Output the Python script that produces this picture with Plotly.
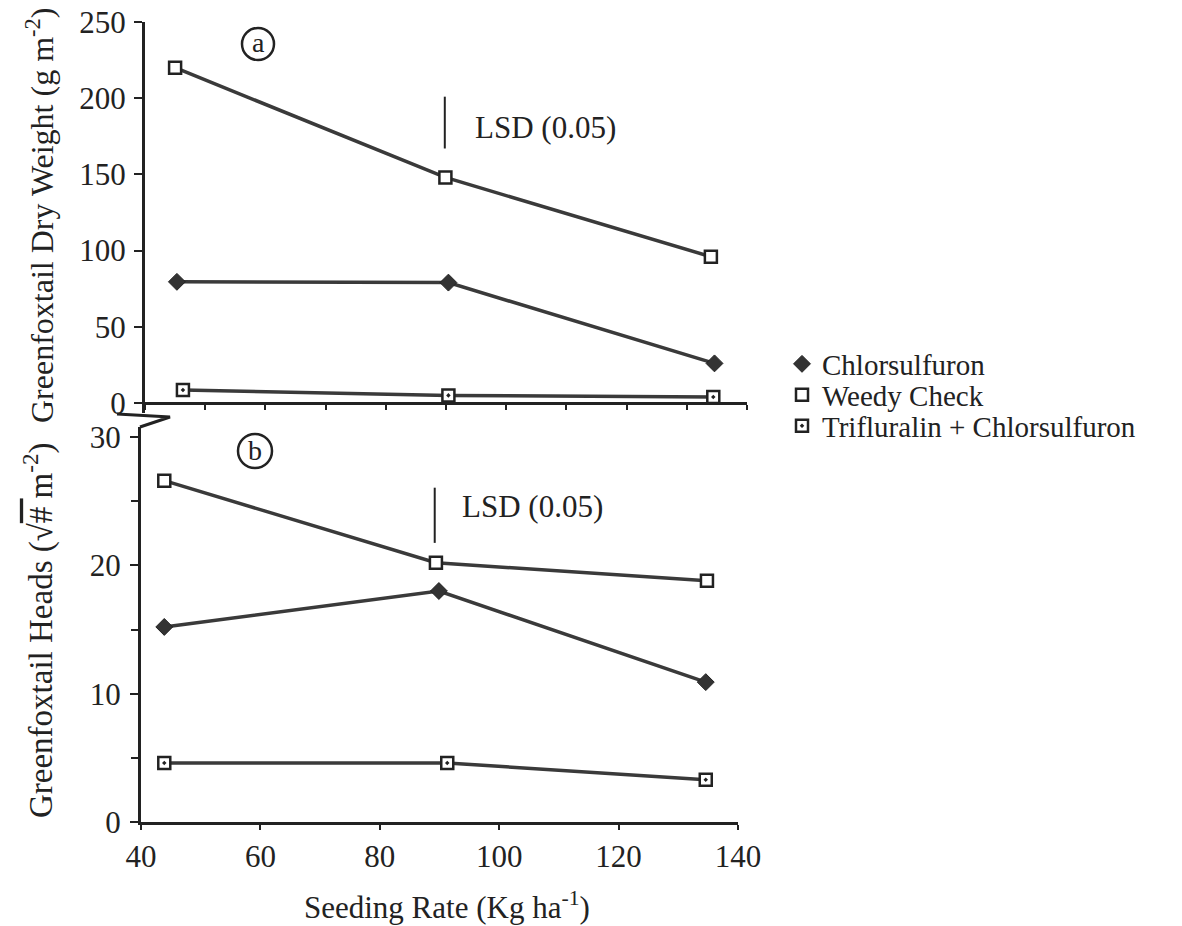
import plotly.graph_objects as go

W, H = 1182, 926

# ---------------- data ----------------
series_names = ["Chlorsulfuron", "Weedy Check", "Trifluralin + Chlorsulfuron"]

# panel (a): Greenfoxtail dry weight (g m-2)
a_chlor_x = [45.3, 90.4, 134.6]
a_chlor_y = [79.5, 79.0, 26.0]
a_weedy_x = [45.0, 89.9, 134.0]
a_weedy_y = [220.0, 148.0, 96.0]
a_trif_x = [46.3, 90.4, 134.4]
a_trif_y = [8.5, 5.0, 4.0]
a_lsd_x = 89.8
a_lsd_center = 184.0
a_lsd_value = 34.0

# panel (b): Greenfoxtail heads (sqrt # m-2)
b_chlor_x = [43.9, 89.9, 134.6]
b_chlor_y = [15.2, 18.0, 10.9]
b_weedy_x = [43.9, 89.4, 134.8]
b_weedy_y = [26.6, 20.2, 18.8]
b_trif_x = [43.9, 91.3, 134.6]
b_trif_y = [4.6, 4.6, 3.3]
b_lsd_x = 89.2
b_lsd_center = 23.9
b_lsd_value = 4.3

x_ticks = [40, 60, 80, 100, 120, 140]
a_y_ticks = [0, 50, 100, 150, 200, 250]
b_y_ticks = [0, 10, 20, 30]

# ---------------- styling helpers ----------------
FONT = "Liberation Serif"
INK = "#222222"
LINE = "#3a3a3a"

def px(x, y):
    return x / W, 1 - y / H

styles = {
    "Chlorsulfuron": dict(symbol="diamond", size=13, color="#333333",
                          line=dict(color=INK, width=1)),
    "Weedy Check": dict(symbol="square", size=12, color="white",
                        line=dict(color=INK, width=2.5)),
    "Trifluralin + Chlorsulfuron": dict(symbol="square-dot", size=12, color="white",
                                        line=dict(color=INK, width=2.5)),
}

fig = go.Figure()

panel_a = [(a_chlor_x, a_chlor_y), (a_weedy_x, a_weedy_y), (a_trif_x, a_trif_y)]
panel_b = [(b_chlor_x, b_chlor_y), (b_weedy_x, b_weedy_y), (b_trif_x, b_trif_y)]

for name, (xs, ys) in zip(series_names, panel_a):
    fig.add_trace(go.Scatter(x=xs, y=ys, mode="lines+markers", name=name,
                             xaxis="x2", yaxis="y2", showlegend=False,
                             line=dict(color=LINE, width=3.5),
                             marker=styles[name], cliponaxis=False))
for name, (xs, ys) in zip(series_names, panel_b):
    fig.add_trace(go.Scatter(x=xs, y=ys, mode="lines+markers", name=name,
                             xaxis="x", yaxis="y", showlegend=False,
                             line=dict(color=LINE, width=3.5),
                             marker=styles[name], cliponaxis=False))

# LSD bars
fig.add_trace(go.Scatter(x=[a_lsd_x, a_lsd_x],
                         y=[a_lsd_center - a_lsd_value / 2, a_lsd_center + a_lsd_value / 2],
                         mode="lines", xaxis="x2", yaxis="y2", showlegend=False,
                         line=dict(color=INK, width=2)))
fig.add_trace(go.Scatter(x=[b_lsd_x, b_lsd_x],
                         y=[b_lsd_center - b_lsd_value / 2, b_lsd_center + b_lsd_value / 2],
                         mode="lines", xaxis="x", yaxis="y", showlegend=False,
                         line=dict(color=INK, width=2)))

# legend entries (markers only), one legend per row for exact spacing
legend_rows = [364, 395, 426]
legend_keys = ["legend", "legend2", "legend3"]
for name, key in zip(series_names, legend_keys):
    st = dict(styles[name])
    fig.add_trace(go.Scatter(x=[None], y=[None], mode="markers", name=name,
                             marker=st, showlegend=True, legend=key))

leg_common = dict(xanchor="left", yanchor="middle", bgcolor="rgba(0,0,0,0)",
                  borderwidth=0, itemwidth=30,
                  font=dict(family=FONT, size=29, color=INK))
lx = 782 / W
layout_legends = {}
for key, row in zip(legend_keys, legend_rows):
    layout_legends[key] = dict(x=lx, y=1 - row / H, **leg_common)

tickfont = dict(family=FONT, size=31, color=INK)
axis_common = dict(showline=True, linecolor=INK, linewidth=3, ticks="outside",
                   tickcolor=INK, tickwidth=2, showgrid=False, zeroline=False,
                   tickfont=tickfont)

# pixel geometry
b_y0, b_y30 = 822, 437
b_top = 427
b_scale = (b_y0 - b_y30) / 30.0
a_y0, a_y250 = 403, 22
a_bottom = 413
a_scale = (a_y0 - a_y250) / 250.0

fig.update_layout(
    width=W, height=H,
    margin=dict(l=0, r=0, t=0, b=0, autoexpand=False),
    paper_bgcolor="white", plot_bgcolor="rgba(0,0,0,0)",
    font=dict(family=FONT, color=INK),
    xaxis=dict(domain=[141 / W, 738 / W], range=[40, 140], anchor="y",
               tickvals=x_ticks, ticklen=5, **axis_common),
    yaxis=dict(domain=[1 - b_y0 / H, 1 - b_top / H],
               range=[0, (b_y0 - b_top) / b_scale], anchor="x",
               tickvals=b_y_ticks, ticklen=8, ticklabelstandoff=3,
               minor=dict(dtick=5, ticklen=7, ticks="outside", tickcolor=INK, tickwidth=2),
               **axis_common),
    xaxis2=dict(domain=[145 / W, 747 / W], range=[40, 140], anchor="free",
                position=1 - a_y0 / H, dtick=10, ticklen=5, showticklabels=False,
                **axis_common),
    yaxis2=dict(domain=[1 - a_bottom / H, 1 - a_y250 / H],
                range=[-(a_bottom - a_y0) / a_scale, 250], anchor="x2",
                tickvals=a_y_ticks, ticklen=8, ticklabelstandoff=2, **axis_common),
    **layout_legends,
)

def ann(x, y, text, size=30, angle=0, xanchor="center"):
    fx, fy = px(x, y)
    fig.add_annotation(x=fx, y=fy, xref="paper", yref="paper", text=text,
                       showarrow=False, textangle=angle, xanchor=xanchor,
                       yanchor="middle", font=dict(family=FONT, size=size, color=INK))

ann(40, 216, "Greenfoxtail Dry Weight (g m<sup>-2</sup>)", size=32, angle=-90)
ann(38, 630, "Greenfoxtail Heads (√<span style='text-decoration:overline'># </span>m<sup>-2</sup>)",
    size=33, angle=-90)
ann(447, 905, "Seeding Rate (Kg ha<sup>-1</sup>)", size=31)

# LSD labels (data coordinates)
fig.add_annotation(x=94.5, y=a_lsd_center - 3, xref="x2", yref="y2", text="LSD (0.05)",
                   showarrow=False, xanchor="left", yanchor="middle",
                   font=dict(family=FONT, size=31, color=INK))
fig.add_annotation(x=93.4, y=b_lsd_center + 0.65, xref="x", yref="y", text="LSD (0.05)",
                   showarrow=False, xanchor="left", yanchor="middle",
                   font=dict(family=FONT, size=31, color=INK))

# circled panel letters
for (cx, cy, r, letter) in [(258, 44, 16, "a"), (255, 451, 17, "b")]:
    x0, y0 = px(cx - r, cy + r)
    x1, y1 = px(cx + r, cy - r)
    fig.add_shape(type="circle", xref="paper", yref="paper", x0=x0, y0=y0, x1=x1, y1=y1,
                  line=dict(color=INK, width=2.5))
    ann(cx, cy - 1, letter, size=28)

# axis break mark
pts = [(117, 414), (170, 417), (140, 427)]
path = "M " + " L ".join(f"{px(x, y)[0]:.5f},{px(x, y)[1]:.5f}" for x, y in pts)
fig.add_shape(type="path", xref="paper", yref="paper", path=path,
              line=dict(color=INK, width=3))

fig.write_html("out.html")
